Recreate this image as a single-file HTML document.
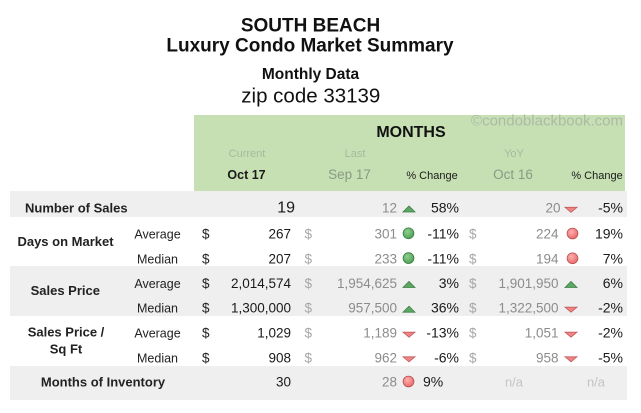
<!DOCTYPE html>
<html><head><meta charset="utf-8"><style>
html,body{margin:0;padding:0;background:#fff;}
svg{display:block;}
text{font-family:"Liberation Sans",Arial,sans-serif;}
.b{font-weight:bold;}
</style></head><body>
<svg width="641" height="413" viewBox="0 0 641 413" xmlns="http://www.w3.org/2000/svg">
<rect x="0" y="0" width="641" height="413" fill="#fff"/>
<!-- titles -->
<text x="310.5" y="31.7" font-size="19" class="b" text-anchor="middle" fill="#111">SOUTH BEACH</text>
<text x="310" y="51.7" font-size="19" class="b" text-anchor="middle" fill="#111">Luxury Condo Market Summary</text>
<text x="310.5" y="79" font-size="15.5" class="b" text-anchor="middle" fill="#111">Monthly Data</text>
<text x="310.8" y="102.3" font-size="20.5" text-anchor="middle" fill="#111">zip code 33139</text>

<!-- green header -->
<rect x="194" y="115" width="431" height="76" fill="#c6e0b4"/>
<text x="623" y="125.5" font-size="15" text-anchor="end" fill="#aeb9a6">©condoblackbook.com</text>
<text x="411" y="137" font-size="16" class="b" text-anchor="middle" fill="#111">MONTHS</text>
<text x="247" y="157" font-size="11" text-anchor="middle" fill="#a6ba9c">Current</text>
<text x="355" y="157" font-size="11" text-anchor="middle" fill="#a6ba9c">Last</text>
<text x="514" y="157" font-size="11" text-anchor="middle" fill="#a6ba9c">YoY</text>
<text x="246.5" y="179" font-size="12.5" class="b" text-anchor="middle" fill="#1a1a1a">Oct 17</text>
<text x="349.5" y="179" font-size="13.5" text-anchor="middle" fill="#8a9a83">Sep 17</text>
<text x="432" y="179" font-size="11" text-anchor="middle" fill="#1a1a1a">% Change</text>
<text x="513" y="179" font-size="13.5" text-anchor="middle" fill="#8a9a83">Oct 16</text>
<text x="597" y="179" font-size="11" text-anchor="middle" fill="#1a1a1a">% Change</text>

<!-- bands -->
<rect x="10" y="191" width="617" height="26" fill="#efefef"/>
<rect x="10" y="266" width="617" height="50" fill="#efefef"/>
<rect x="10" y="366" width="617" height="34" fill="#efefef"/>

<defs>
<radialGradient id="gG" cx="0.4" cy="0.35" r="0.7">
<stop offset="0" stop-color="#8fd08f"/><stop offset="1" stop-color="#4a9e52"/></radialGradient>
<radialGradient id="rG" cx="0.4" cy="0.35" r="0.7">
<stop offset="0" stop-color="#ffb0b0"/><stop offset="1" stop-color="#e86666"/></radialGradient>
<g id="up"><polygon points="-6,0 6,0 0,-6" fill="#5aa862" stroke="#3f7f46" stroke-width="0.8"/></g>
<g id="dn"><polygon points="-6,-5 6,-5 0,0" fill="#f08585" stroke="#c45a5a" stroke-width="0.8"/></g>
<g id="gc"><circle cx="0" cy="-5.2" r="5.4" fill="url(#gG)" stroke="#3c7c40" stroke-width="0.8"/></g>
<g id="rc"><circle cx="0" cy="-5.2" r="5.4" fill="url(#rG)" stroke="#b85050" stroke-width="0.8"/></g>
</defs>

<!-- labels -->
<g class="b" font-size="13" fill="#222">
<text x="25" y="212.3">Number of Sales</text>
<text x="65.5" y="246" text-anchor="middle">Days on Market</text>
<text x="65.3" y="295" text-anchor="middle">Sales Price</text>
<text x="66" y="336.7" text-anchor="middle">Sales Price /</text>
<text x="66" y="353.3" text-anchor="middle">Sq Ft</text>
<text x="103" y="386.7" text-anchor="middle">Months of Inventory</text>
</g>
<g font-size="12.5" fill="#222" text-anchor="middle">
<text x="157.5" y="238.5">Average</text>
<text x="157.5" y="263.3">Median</text>
<text x="157.5" y="288">Average</text>
<text x="157.5" y="312.7">Median</text>
<text x="157.5" y="337.7">Average</text>
<text x="157.5" y="362.3">Median</text>
</g>

<!-- $ columns -->
<g font-size="13.5" fill="#222">
<text x="202" y="238.5">$</text><text x="202" y="263.3">$</text>
<text x="202" y="288">$</text><text x="202" y="312.7">$</text>
<text x="202" y="337.7">$</text><text x="202" y="362.3">$</text>
</g>
<g font-size="13.5" fill="#a6a6a6">
<text x="304.5" y="238.5">$</text><text x="304.5" y="263.3">$</text>
<text x="304.5" y="288">$</text><text x="304.5" y="312.7">$</text>
<text x="304.5" y="337.7">$</text><text x="304.5" y="362.3">$</text>
<text x="469" y="238.5">$</text><text x="469" y="263.3">$</text>
<text x="469" y="288">$</text><text x="469" y="312.7">$</text>
<text x="469" y="337.7">$</text><text x="469" y="362.3">$</text>
</g>

<!-- current values -->
<g font-size="13.5" fill="#1a1a1a" text-anchor="end">
<text x="295" y="212.7" font-size="16">19</text>
<text x="291" y="238.5">267</text>
<text x="291" y="263.3">207</text>
<text x="291" y="288">2,014,574</text>
<text x="291" y="312.7">1,300,000</text>
<text x="291" y="337.7">1,029</text>
<text x="291" y="362.3">908</text>
<text x="291" y="386.7">30</text>
</g>

<!-- last month values -->
<g font-size="13.5" fill="#8c8c8c" text-anchor="end">
<text x="397" y="212.5">12</text>
<text x="397" y="238.5">301</text>
<text x="397" y="263.3">233</text>
<text x="397" y="288">1,954,625</text>
<text x="397" y="312.7">957,500</text>
<text x="397" y="337.7">1,189</text>
<text x="397" y="362.3">962</text>
<text x="397" y="386.7">28</text>
</g>

<!-- yoy values -->
<g font-size="13.5" fill="#8c8c8c" text-anchor="end">
<text x="560.5" y="212.5">20</text>
<text x="558.5" y="238.5">224</text>
<text x="558.5" y="263.3">194</text>
<text x="558.5" y="288">1,901,950</text>
<text x="558.5" y="312.7">1,322,500</text>
<text x="558.5" y="337.7">1,051</text>
<text x="558.5" y="362.3">958</text>
</g>
<g font-size="13" fill="#c4c4c4" text-anchor="middle">
<text x="514" y="386.7">n/a</text>
<text x="596" y="386.7">n/a</text>
</g>

<!-- percents -->
<g font-size="14" fill="#1a1a1a" text-anchor="end">
<text x="459" y="212.5">58%</text>
<text x="459" y="238.5">-11%</text>
<text x="459" y="263.3">-11%</text>
<text x="459" y="288">3%</text>
<text x="459" y="312.7">36%</text>
<text x="459" y="337.7">-13%</text>
<text x="459" y="362.3">-6%</text>
<text x="623" y="212.5">-5%</text>
<text x="623" y="238.5">19%</text>
<text x="623" y="263.3">7%</text>
<text x="623" y="288">6%</text>
<text x="623" y="312.7">-2%</text>
<text x="623" y="337.7">-2%</text>
<text x="623" y="362.3">-5%</text>
</g>
<text x="423" y="386.7" font-size="14" fill="#1a1a1a">9%</text>

<!-- icons left -->
<use href="#up" x="409" y="212"/>
<use href="#gc" x="408.5" y="238.5"/>
<use href="#gc" x="408.5" y="263.3"/>
<use href="#up" x="409" y="287.5"/>
<use href="#up" x="409" y="312.2"/>
<use href="#dn" x="409" y="337.2"/>
<use href="#dn" x="409" y="361.8"/>
<use href="#rc" x="408.5" y="386.7"/>
<!-- icons right -->
<use href="#dn" x="571" y="212.3"/>
<use href="#rc" x="572.5" y="238.7"/>
<use href="#rc" x="572.5" y="263.5"/>
<use href="#up" x="571" y="287.5"/>
<use href="#dn" x="571" y="312.2"/>
<use href="#dn" x="571" y="337.2"/>
<use href="#dn" x="571" y="361.8"/>
</svg>
</body></html>
